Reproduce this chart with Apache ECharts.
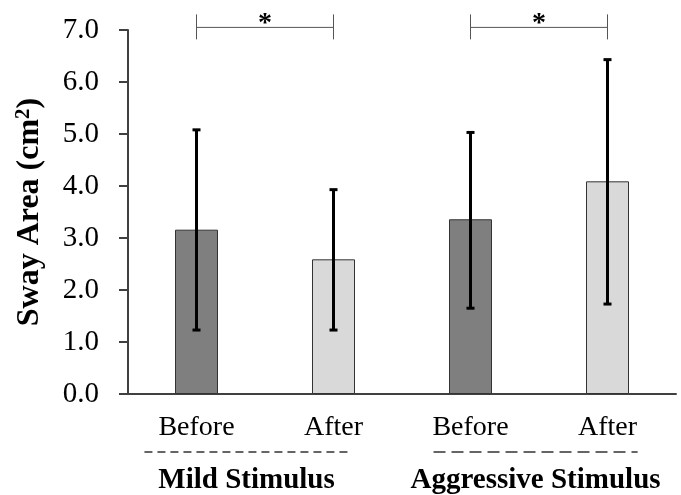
<!DOCTYPE html>
<html>

<head>
    <meta charset="utf-8">
    <script src="https://cdn.jsdelivr.net/npm/echarts@6/dist/echarts.min.js"></script>
</head>

<body style="margin:0">
    <div id="main" style="width: 681px;height:495px;"></div>
    <script type="text/javascript">
        // data
        var categories = ['Before', 'After', 'Before', 'After'];
        var meanValues = [3.16, 2.59, 3.36, 4.09];
        var errLow = [1.23, 1.23, 1.65, 1.73];
        var errHigh = [5.08, 3.93, 5.03, 6.43];
        var yTicks = [0, 7, 1];  // min, max, interval
        var groups = ['Mild Stimulus', 'Aggressive Stimulus'];
        var brackets = [[0, 1, 7.05], [2, 3, 7.05]];  // from, to, level
        var barColors = ['#7f7f7f', '#d9d9d9', '#7f7f7f', '#d9d9d9'];

        var font = 'Liberation Serif';
        var myChart = echarts.init(document.getElementById('main'));

        var option = {
            animation: false,
            grid: { left: 128, right: 5, top: 30, bottom: 101 },
            xAxis: {
                type: 'category',
                data: categories,
                axisTick: { show: false },
                axisLine: { lineStyle: { color: '#404040', width: 2 } },
                axisLabel: { color: '#000', fontFamily: font, fontSize: 28, margin: 20 }
            },
            yAxis: {
                type: 'value',
                min: yTicks[0],
                max: yTicks[1],
                interval: yTicks[2],
                name: '{a|Sway Area (cm}{s|2}{a|)}',
                nameLocation: 'middle',
                nameGap: 82,
                nameTextStyle: {
                    color: '#000', fontFamily: font, fontSize: 32, fontWeight: 'bold',
                    rich: {
                        a: { fontFamily: font, fontSize: 32, fontWeight: 'bold', color: '#000' },
                        s: { fontFamily: font, fontSize: 21, fontWeight: 'bold', color: '#000', verticalAlign: 'top', padding: [0, 0, 12, 0] }
                    }
                },
                axisLine: { show: true, lineStyle: { color: '#404040', width: 2 } },
                axisTick: { show: true, length: 9, lineStyle: { color: '#404040', width: 2 } },
                splitLine: { show: false },
                axisLabel: {
                    color: '#000', fontFamily: font, fontSize: 29, margin: 29,
                    formatter: function (v) { return v.toFixed(1); }
                }
            },
            series: [{
                type: 'bar',
                barWidth: 43,
                z: 2,
                data: meanValues.map(function (v, i) {
                    return { value: v, itemStyle: { color: barColors[i], borderColor: '#333', borderWidth: 1 } };
                })
            }, {
                // error bars
                type: 'custom',
                clip: false,
                z: 5,
                data: meanValues.map(function (v, i) { return [i, errLow[i], errHigh[i]]; }),
                renderItem: function (params, api) {
                    var lo = api.coord([api.value(0), api.value(1)]);
                    var hi = api.coord([api.value(0), api.value(2)]);
                    var st = { stroke: '#000', lineWidth: 3 };
                    return {
                        type: 'group',
                        children: [
                            { type: 'line', shape: { x1: lo[0], y1: lo[1], x2: hi[0], y2: hi[1] }, style: st },
                            { type: 'line', shape: { x1: lo[0] - 4, y1: lo[1], x2: lo[0] + 4, y2: lo[1] }, style: st },
                            { type: 'line', shape: { x1: hi[0] - 4, y1: hi[1], x2: hi[0] + 4, y2: hi[1] }, style: st }
                        ]
                    };
                }
            }, {
                // significance brackets
                type: 'custom',
                clip: false,
                z: 5,
                data: brackets,
                renderItem: function (params, api) {
                    var a = api.coord([api.value(0), api.value(2)]);
                    var b = api.coord([api.value(1), api.value(2)]);
                    var st = { stroke: '#555', lineWidth: 1 };
                    return {
                        type: 'group',
                        children: [
                            { type: 'line', shape: { x1: a[0], y1: a[1], x2: b[0], y2: b[1] }, style: st },
                            { type: 'line', shape: { x1: a[0], y1: a[1] - 13, x2: a[0], y2: a[1] + 12 }, style: st },
                            { type: 'line', shape: { x1: b[0], y1: b[1] - 13, x2: b[0], y2: b[1] + 12 }, style: st },
                            {
                                type: 'text',
                                style: {
                                    x: (a[0] + b[0]) / 2, y: a[1] + 10, text: '*',
                                    font: 'bold 28px ' + font, fill: '#000',
                                    align: 'center', verticalAlign: 'bottom'
                                }
                            }
                        ]
                    };
                }
            }, {
                // group labels under the axis
                type: 'custom',
                clip: false,
                z: 5,
                data: groups.map(function (g, i) { return [i * 2, i * 2 + 1, 0]; }),
                renderItem: function (params, api) {
                    var i = params.dataIndex;
                    var a = api.coord([api.value(0), 0]);
                    var b = api.coord([api.value(1), 0]);
                    var w = b[0] - a[0];
                    var x1 = i === 0 ? a[0] - 0.38 * w : a[0] - 0.27 * w;
                    var x2 = i === 0 ? b[0] + 0.11 * w : b[0] + 0.22 * w;
                    var dash = i === 0 ? [8, 5] : [12, 6];
                    return {
                        type: 'group',
                        children: [
                            {
                                type: 'line',
                                shape: { x1: x1, y1: a[1] + 58, x2: x2, y2: a[1] + 58 },
                                style: { stroke: '#333', lineWidth: 1.5, lineDash: dash }
                            },
                            {
                                type: 'text',
                                style: {
                                    x: (x1 + x2) / 2, y: a[1] + 87, text: groups[i],
                                    font: 'bold 29px ' + font, fill: '#000',
                                    align: 'center', verticalAlign: 'middle'
                                }
                            }
                        ]
                    };
                }
            }]
        };

        myChart.setOption(option);
    </script>
</body>

</html>
